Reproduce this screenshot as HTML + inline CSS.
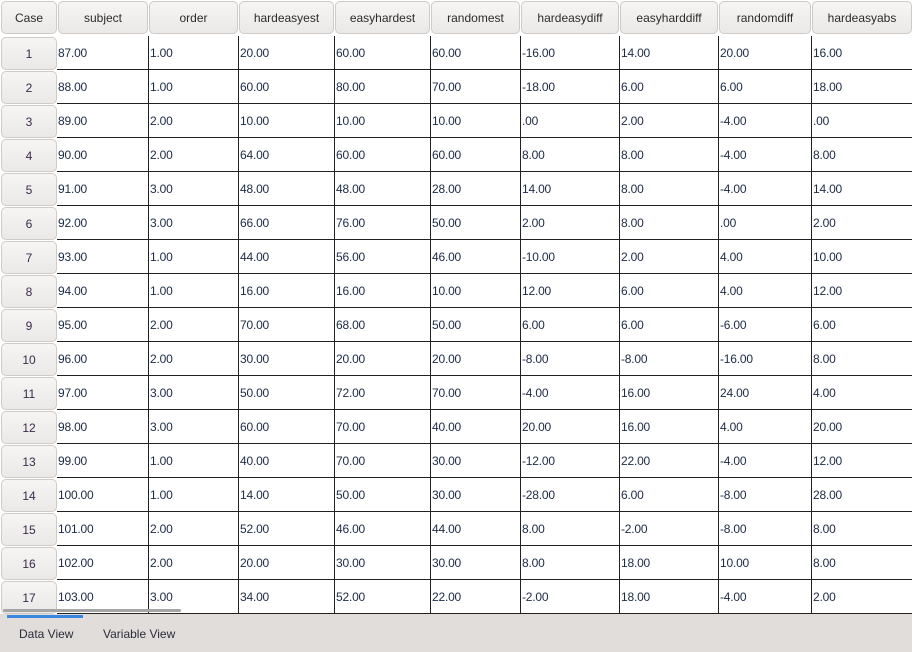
<!DOCTYPE html>
<html><head><meta charset="utf-8"><style>
body{margin:0;width:912px;height:652px;overflow:hidden;background:#fff;font-family:"Liberation Sans","DejaVu Sans",sans-serif;position:relative}
.hd{position:absolute;top:1px;height:33px;background:linear-gradient(#f6f5f4,#ebe9e7);border:1px solid #cfcac6;border-radius:5px;box-sizing:border-box;font-size:12px;color:#2b2b2b;display:flex;align-items:center;justify-content:center}
.rh{position:absolute;left:1px;width:56px;height:33px;background:linear-gradient(#f6f5f4,#ebe9e7);border:1px solid #cfcac6;border-radius:5px;box-sizing:border-box;font-size:12px;color:#3a2a4a;display:flex;align-items:center;justify-content:center;padding-top:1px}
.c{position:absolute;height:34px;box-sizing:border-box;border-left:1px solid #222;border-bottom:1px solid #222;font-size:12px;color:#1c2a44;line-height:35px;padding-left:1px;white-space:nowrap;overflow:hidden;letter-spacing:-0.2px}
</style></head><body>
<div id="grid"></div>
<div style="position:absolute;left:0;top:614px;width:912px;height:38px;background:#e1ddda"></div>
<div style="position:absolute;left:3px;top:609px;width:178px;height:3px;background:#a5a5a5;border-radius:2px"></div>
<div style="position:absolute;left:7px;top:615px;width:76px;height:3px;background:#3a87e0"></div>
<div style="position:absolute;left:19px;top:627px;font-size:12px;color:#2b2b3a">Data View</div>
<div style="position:absolute;left:103px;top:627px;font-size:12px;color:#2b2b3a">Variable View</div>
<script>
const headers=["subject","order","hardeasyest","easyhardest","randomest","hardeasydiff","easyharddiff","randomdiff","hardeasyabs"];
const rows=[
["87.00","1.00","20.00","60.00","60.00","-16.00","14.00","20.00","16.00"],
["88.00","1.00","60.00","80.00","70.00","-18.00","6.00","6.00","18.00"],
["89.00","2.00","10.00","10.00","10.00",".00","2.00","-4.00",".00"],
["90.00","2.00","64.00","60.00","60.00","8.00","8.00","-4.00","8.00"],
["91.00","3.00","48.00","48.00","28.00","14.00","8.00","-4.00","14.00"],
["92.00","3.00","66.00","76.00","50.00","2.00","8.00",".00","2.00"],
["93.00","1.00","44.00","56.00","46.00","-10.00","2.00","4.00","10.00"],
["94.00","1.00","16.00","16.00","10.00","12.00","6.00","4.00","12.00"],
["95.00","2.00","70.00","68.00","50.00","6.00","6.00","-6.00","6.00"],
["96.00","2.00","30.00","20.00","20.00","-8.00","-8.00","-16.00","8.00"],
["97.00","3.00","50.00","72.00","70.00","-4.00","16.00","24.00","4.00"],
["98.00","3.00","60.00","70.00","40.00","20.00","16.00","4.00","20.00"],
["99.00","1.00","40.00","70.00","30.00","-12.00","22.00","-4.00","12.00"],
["100.00","1.00","14.00","50.00","30.00","-28.00","6.00","-8.00","28.00"],
["101.00","2.00","52.00","46.00","44.00","8.00","-2.00","-8.00","8.00"],
["102.00","2.00","20.00","30.00","30.00","8.00","18.00","10.00","8.00"],
["103.00","3.00","34.00","52.00","22.00","-2.00","18.00","-4.00","2.00"]];
const edges=[57,148,238,334,430,520,619,718,811,912];
const g=document.getElementById('grid');
function mk(cls,x,y,w,t){const d=document.createElement('div');d.className=cls;d.style.left=x+'px';d.style.top=y+'px';if(w)d.style.width=w+'px';d.textContent=t;g.appendChild(d);return d;}
const ch=mk('hd',1,1,56,'Case');


headers.forEach((h,i)=>{const d=mk('hd',edges[i]+1,1,edges[i+1]-edges[i]-1,h);

});
rows.forEach((r,ri)=>{const y=36+ri*34;
const rh=mk('rh',1,y+1,0,String(ri+1));


r.forEach((v,ci)=>{const d=mk('c',edges[ci],y,edges[ci+1]-edges[ci],v);
if(ci==0){d.style.borderLeft='none';}

});});
</script>
</body></html>
